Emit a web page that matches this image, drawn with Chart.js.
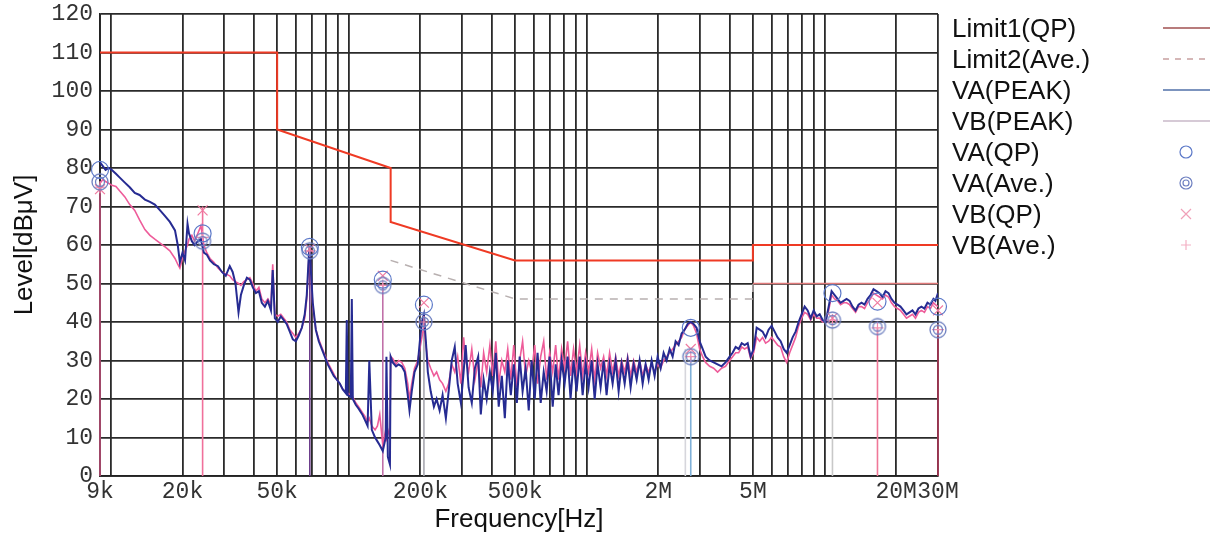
<!DOCTYPE html>
<html><head><meta charset="utf-8">
<script src="https://cdn.jsdelivr.net/npm/chart.js@4.4.1/dist/chart.umd.min.js"></script>
<style>html,body{margin:0;padding:0;background:#fff;overflow:hidden}canvas{display:block}</style>
</head><body>
<canvas id="c" width="1213" height="535"></canvas>
<script>
// ---------- DATA ----------
// Peak scan frequencies (kHz)
const freqK = [
 9.0,9.25,9.5,9.8,10.1,10.5,10.9,11.45,12.0,12.6,13.2,13.9,14.6,15.3,16.1,16.9,17.7,18.6,19.1,19.5,
 20.0,20.5,21.0,21.3,21.9,22.5,23.2,23.9,24.6,25.3,26.1,27.1,28.2,29.3,30.4,31.6,32.5,33.4,34.4,35.2,36.2,37.3,38.4,39.5,40.7,41.9,43.1,44.4,45.7,47.1,47.9,
 48.9,50.3,51.8,53.3,54.8,56.5,58.2,59.9,61.6,63.5,65.3,66.6,67.9,68.6,69.2,70.6,72.7,74.8,77.0,79.3,81.6,84.0,86.5,89.1,91.7,94.4,97.2,98.1,99.0,102,103,104,107,110,114,117,120,122,125,129,132,135,139,143,144,146,149,
 150,153,158,162,167,172,177,180,184,189,195,199,203,207,211,215,221,228,234,241,248,256,
 263,271,279,287,296,304,310,319,329,339,350,359,369,380,392,403,415,427,440,453,
 466,480,494,509,523,538,554,571,587,605,622,641,660,679,699,720,741,762,785,808,
 832,856,881,907,935,962,990,1019,1050,1081,1112,1145,1179,1213,1249,1286,1324,1363,1403,1445,
 1487,1531,1576,1623,1670,1720,1770,1822,1876,1931,1988,2047,2107,2169,2233,2299,2366,2436,
 2508,2582,2658,2736,2816,2899,2986,3074,3164,3289,3418,3553,3692,3837,3992,4108,4231,4357,4487,4616,
 4754,4893,5036,5185,5338,5492,5654,5821,5993,6172,6350,6540,6735,6930,7137,7345,7560,7785,8010,8252,
 8495,8750,9005,9270,9543,9820,10110,10410,10710,11030,11350,11680,12030,12380,12750,13120,13510,13900,14310,14730,
 15170,15610,16070,16540,17030,17530,18050,18580,19120,19690,20270,20860,21480,22110,22760,23430,24120,24830,25560,26310,
 27090,27880,28700,29250,30000
];
// VA(PEAK) level dBuV
const vaPeak = [
 81.5,80.5,79.5,80,79.5,78.5,77.5,76.2,75,73.5,73,71.8,71.2,70.5,69,67.5,66,63.8,60,55.5,
 58,56,65.5,63,61,60,61,61.5,58,57.5,56,55,54.5,53,52,54.5,53,50,42.5,47,49.5,51.5,51,49,47.5,48,45,44,45.5,43,53.5,
 41,40,41.5,40.5,39.5,37.5,35.5,35,36.5,38.5,42,47,57,60,54,45,38,35,33,31,29,27.5,26,25,24,22.5,21.5,40.5,21,20.5,46,20,18.5,17.5,16,14.5,13,30,12,10,9,8,6.5,10,31,5,3,
 31,29.5,28.5,29,28.5,27,21,17,22,27,29,35,40,42,35,27,22,18,20,17,21,15,
 22,30,33.5,24,19,27,34,23,19,28,31,16,25,20,27,22,32,18,26,15,
 30,21,29,19,31,22,28,17,30,20,32,19,27,22,31,18,29,21,30,24,
 31,20,30,22,31,21,29,23,30,20,29,23,30,21,29,24,30,22,29,24,
 30,23,29,25,30,24,29,25,30,26,31,28,32,30,33,31,35,34,
 37,38,39.5,40,39.5,38.5,35,33,31,30,29.5,29,28.5,29.5,31,32,33.5,33,34.5,34,
 34.5,31,33,38.5,38,37.5,36,38,39,37.5,36,35,33,32,34,36,37.5,40,42,44,
 43,41,43,41.5,42,40.5,40,44,48,47,46,45,45.5,46,45.5,44,43,44.5,45,44.5,
 46,47,48.5,48,47.5,46.5,48,47.5,46,45,44.5,44,43,42,42.5,43,42,43.5,44,43.5,
 45,44.5,46,45.5,47.5
];
// VB(PEAK) level dBuV
const vbPeak = [
 76,77,76.5,76,75.5,75.2,74,72.5,70.5,69,66.5,64,62.5,61.5,60.5,59.5,58.5,56.5,55,54,
 56.5,58.5,60,61.5,62.5,61,63,65,60,58,56.5,55.5,54,53,52.5,52,51,50.5,50,49.5,50.5,51,51.5,50,48,49,46,45,46,44.5,55,
 42,41.5,42,41,40,38,37,36,37,38.5,41,46,56,59,53,44,38,35.5,33.5,31.5,29.5,28,26.5,25,24,22.5,22,22,21.5,21,21,20.5,19,18,16.5,15.5,14,15,13,12,13,16,8,12,9,12,10,
 31,30.5,29,30,29.5,28,24,20,24,28,30,33,36,39,34,30,28,26,27,25,24,22,
 24,29,27,31,24,36,30,27,33,25,30,23,32,27,34,26,35,24,30,27,
 33,25,34,23,30,35,26,30,27,34,24,31,35,25,32,27,34,25,33,28,
 35,26,33,27,34,26,32,27,33,25,32,28,31,26,32,27,31,26,30,27,
 31,26,30,27,30,26,29,27,29,27,29,28,30,31,32,33,34,35,
 36,38,39,40,39,37,33,31,29.5,28.5,28,27,28,28.5,30,31,32,32,33.5,33,
 33.5,30.5,32,36,35,36,34.5,35,36,35,34,33.5,31,29.5,32,34,36,39,41,42.5,
 42,40.5,42,41,41,40,40.5,43,47,46,45.5,44.5,45,45,44.5,43.5,42.5,44,44,43.5,
 45,46,47.5,47,46.5,46,47,46.5,45,44,43.5,43,42,41,41.5,42,41,42.5,43,42.5,
 44,43.5,45,44.5,44
];
// Limits
const limit1FreqK = [9, 50, 50, 150, 150, 500, 5000, 5000, 30000];
const limit1Level = [110, 110, 90, 80, 66, 56, 56, 60, 60];
const limit2FreqK = [150, 500, 5000, 5000, 30000];
const limit2Level = [56, 46, 46, 50, 50];
// Final measurement markers
const markerFreqK = [9, 24.3, 68.6, 139, 207, 2740, 10800, 16700, 30000];
const vaQP  = [79.5, 63, 59.5, 51, 44.5, 38.5, 47.5, 45.3, 44];
const vaAve = [76.4, 61, 58.5, 49.5, 40, 31, 40.5, 38.8, 38];
const vbQP  = [74.5, 69, 59, 52, 45, 33, 41, 45, 43];
const vbAve = [75, 62, 58.5, 49.5, 40, 31, 40.5, 38.5, 38];
// Marker stems (vertical lines to 0)
const stemFreqK = [9, 24.3, 68.6, 139, 207, 2600, 2740, 10800, 16700, 30000];
const stemTop   = [76, 70, 59, 50, 40, 33, 31, 40, 38.5, 38];
const stemColors = ['#c0507a','#f0709a','#6a3a8a','#c070a8','#a8a8b0','#d6d6dc','#7fb0d8','#c8c8c8','#f07898','#b03858'];
// Axes
const xGridValues = [9000,10000,20000,30000,40000,50000,60000,70000,80000,90000,
 100000,200000,300000,400000,500000,600000,700000,800000,900000,
 1000000,2000000,3000000,4000000,5000000,6000000,7000000,8000000,9000000,
 10000000,20000000,30000000];
const xTickValues = [9000, 20000, 50000, 200000, 500000, 2000000, 5000000, 20000000, 30000000];
const xTickLabels = ['9k','20k','50k','200k','500k','2M','5M','20M','30M'];
const legendLabels = ['Limit1(QP)','Limit2(Ave.)','VA(PEAK)','VB(PEAK)','VA(QP)','VA(Ave.)','VB(QP)','VB(Ave.)'];

// ---------- BUILD ----------
const pts = (fk, lv) => fk.map((f, i) => ({x: f * 1000, y: lv[i]}));

function ring2(color){
  const c = document.createElement('canvas'); c.width = c.height = 22;
  const g = c.getContext('2d'); g.strokeStyle = color; g.lineWidth = 1.3;
  g.beginPath(); g.arc(11,11,8,0,2*Math.PI); g.stroke();
  g.beginPath(); g.arc(11,11,4.5,0,2*Math.PI); g.stroke();
  return c;
}

const datasets = [];
stemFreqK.forEach((f,i)=>{
  datasets.push({ type:'line', data:[{x:f*1000,y:0},{x:f*1000,y:stemTop[i]}], borderColor:stemColors[i],
    borderWidth:1.6, pointRadius:0, order:9, clip:false });
});
datasets.push({ label:'VB(PEAK)', data:pts(freqK, vbPeak), borderColor:'#ee5c9a', borderWidth:1.6, pointRadius:0, order:4 });
datasets.push({ label:'VA(PEAK)', data:pts(freqK, vaPeak), borderColor:'#262b92', borderWidth:2, pointRadius:0, order:3 });
datasets.push({ label:'Limit2(Ave.)', data:pts(limit2FreqK, limit2Level), borderColor:'#b8b0b0', borderWidth:1.5,
  borderDash:[8,7], pointRadius:0, order:2,
  segment:{ borderColor: c => c.p0DataIndex >= 3 ? '#e07a7a' : undefined, borderDash: c => c.p0DataIndex >= 3 ? [] : undefined } });
datasets.push({ label:'Limit1(QP)', data:pts(limit1FreqK, limit1Level), borderColor:'#ef3a24', borderWidth:2, pointRadius:0, order:1 });
datasets.push({ label:'VA(QP)', data:pts(markerFreqK, vaQP), showLine:false, pointStyle:'circle', pointRadius:8.5,
  pointBorderColor:'#5b78c8', pointBackgroundColor:'rgba(0,0,0,0)', pointBorderWidth:1.2, order:0, clip:false });
datasets.push({ label:'VA(Ave.)', data:pts(markerFreqK, vaAve), showLine:false, pointStyle:ring2('#6d7fc0'), order:0, clip:false });
datasets.push({ label:'VB(QP)', data:pts(markerFreqK, vbQP), showLine:false, pointStyle:'crossRot', pointRadius:7,
  pointBorderColor:'#f07aa0', pointBorderWidth:1.2, order:0, clip:false });
datasets.push({ label:'VB(Ave.)', data:pts(markerFreqK, vbAve), showLine:false, pointStyle:'cross', pointRadius:6,
  pointBorderColor:'#f48fb0', pointBorderWidth:1.2, order:0, clip:false });

const overlay = {
  id:'overlay',
  afterDraw(chart){
    const ctx = chart.ctx;
    ctx.save();
    ctx.fillStyle = '#111';
    ctx.font = '26px "Liberation Sans", Arial, sans-serif';
    ctx.textAlign = 'center'; ctx.textBaseline = 'alphabetic';
    ctx.fillText('Frequency[Hz]', 519, 527);
    ctx.save(); ctx.translate(32, 245); ctx.rotate(-Math.PI/2); ctx.fillText('Level[dBμV]', 0, 0); ctx.restore();
    ctx.textAlign = 'left';
    const x0 = 952, sx0 = 1163, sx1 = 1210, mx = 1186;
    legendLabels.forEach((t,i)=>{
      const base = 37 + i*31, cy = base - 9;
      ctx.fillStyle = '#111';
      ctx.fillText(t, x0, base);
      ctx.save();
      ctx.lineWidth = 1.6;
      if (i < 4) {
        const cols = ['#a05050','#c8a0a0','#5070a8','#c8b8c8'];
        ctx.strokeStyle = cols[i];
        ctx.setLineDash(i===1 ? [6,6] : []);
        ctx.beginPath(); ctx.moveTo(sx0, cy); ctx.lineTo(sx1, cy); ctx.stroke();
      } else if (i === 4) {
        ctx.strokeStyle = '#5b78c8'; ctx.lineWidth = 1.2;
        ctx.beginPath(); ctx.arc(mx, cy, 6, 0, 2*Math.PI); ctx.stroke();
      } else if (i === 5) {
        ctx.strokeStyle = '#6d7fc0'; ctx.lineWidth = 1.2;
        ctx.beginPath(); ctx.arc(mx, cy, 6, 0, 2*Math.PI); ctx.stroke();
        ctx.beginPath(); ctx.arc(mx, cy, 3, 0, 2*Math.PI); ctx.stroke();
      } else if (i === 6) {
        ctx.strokeStyle = '#f0a0b8'; ctx.lineWidth = 1.2;
        ctx.beginPath(); ctx.moveTo(mx-5,cy-5); ctx.lineTo(mx+5,cy+5); ctx.moveTo(mx+5,cy-5); ctx.lineTo(mx-5,cy+5); ctx.stroke();
      } else {
        ctx.strokeStyle = '#f4b0c4'; ctx.lineWidth = 1.2;
        ctx.beginPath(); ctx.moveTo(mx-5,cy); ctx.lineTo(mx+5,cy); ctx.moveTo(mx,cy-5); ctx.lineTo(mx,cy+5); ctx.stroke();
      }
      ctx.restore();
    });
    ctx.restore();
  }
};

const tickFont = {family:'"Liberation Mono", "Courier New", monospace', size:23};
const yTickFont = {family:'"Liberation Mono", "Courier New", monospace', size:23, lineHeight:0.8};
new Chart(document.getElementById('c'), {
  type:'line',
  data:{ datasets },
  options:{
    responsive:false, animation:false, devicePixelRatio:1,
    parsing:true, normalized:true, spanGaps:false,
    elements:{ line:{ tension:0 } },
    layout:{ padding:{ left:0, top:14, right:275, bottom:0 } },
    plugins:{ legend:{display:false}, tooltip:{enabled:false} },
    scales:{
      x:{ type:'logarithmic', min:9000, max:30000000,
        afterBuildTicks: s => { s.ticks = xGridValues.map(v => ({value:v})); },
        afterFit: s => { s.height = 59; },
        ticks:{ autoSkip:false, maxRotation:0, minRotation:0, padding:2, color:'#333', font:tickFont,
          callback: v => { const i = xTickValues.indexOf(v); return i >= 0 ? xTickLabels[i] : ''; } },
        grid:{ color:'#2a2a2a', lineWidth:1.8, drawTicks:false },
        border:{ color:'#222', width:1.8 }
      },
      y:{ min:0, max:120,
        afterFit: s => { s.width = 100; s.paddingTop = 0; s.paddingBottom = 0; },
        ticks:{ stepSize:10, padding:7, color:'#333', font:yTickFont },
        grid:{ color:'#2a2a2a', lineWidth:1.8, drawTicks:false },
        border:{ color:'#222', width:1.8 }
      }
    }
  },
  plugins:[overlay]
});
</script>
</body></html>
